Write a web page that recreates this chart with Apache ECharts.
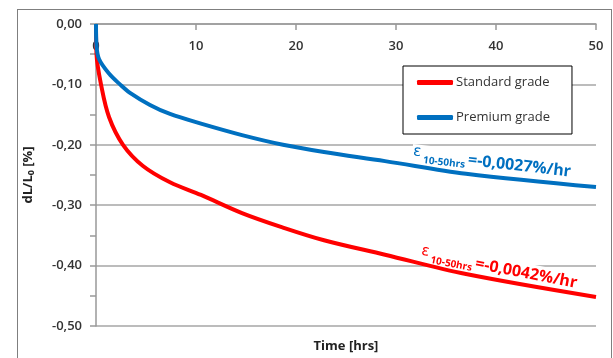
<!DOCTYPE html>
<html>
<head>
<meta charset="UTF-8" />
<script src="https://cdn.jsdelivr.net/npm/echarts@6/dist/echarts.min.js"></script>
<style>
  html, body { margin: 0; padding: 0; background: #fff; overflow: hidden; }
  #wrap { position: relative; width: 613px; height: 358px; }
  #chart { position: absolute; left: 0; top: 0; width: 613px; height: 358px; }
  #frame { position: absolute; left: 17px; top: 9px; width: 593px; height: 400px;
    border: 1px solid #7f7f7f; pointer-events: none; }
</style>
</head>
<body>
<div id="wrap">
  <div id="chart"></div>
  <div id="frame"></div>
</div>
<script>
// values (time in hrs, dL/L0 in %)
const stdTime = [0, 0.05, 0.5, 1.3, 2.7, 4.7, 7.4, 10.5, 14.6, 18.7, 22.8, 28.9, 37, 50];
const stdValue = [0, -0.05, -0.1, -0.154, -0.2, -0.235, -0.262, -0.283, -0.313, -0.337, -0.358, -0.382, -0.414, -0.452];
const premTime = [0, 0.05, 0.3, 1.3, 2.4, 3.4, 5.4, 7.4, 10.5, 14.6, 18.7, 22.8, 28.9, 37, 50];
const premValue = [0, -0.035, -0.058, -0.082, -0.1, -0.114, -0.134, -0.149, -0.165, -0.184, -0.2, -0.212, -0.227, -0.248, -0.27];
const seriesNames = ['Standard grade', 'Premium grade'];
const seriesColors = ['#ff0000', '#0070c0'];
const rateLabels = ['-0,0042%/hr', '-0,0027%/hr'];
// where each rate note starts, in data units
const noteAnchor = [[32.4, -0.379], [31.6, -0.215]];
const noteTilt = [11, 6.5];

const FONT = '"Open Sans", "DejaVu Sans", sans-serif';
const GRID_COLOR = '#a6a6a6';

function zip(xs, ys) {
  return xs.map((x, i) => [x, ys[i]]);
}

function fmtComma(v) {
  const s = Math.abs(v) < 1e-9 ? '0.00' : v.toFixed(2);
  return s.replace('.', ',');
}

const chart = echarts.init(document.getElementById('chart'));

const option = {
  animation: false,
  textStyle: { fontFamily: FONT },
  grid: { left: 96, right: 17, top: 24, bottom: 22 },
  legend: {
    orient: 'vertical',
    left: 403,
    top: 66,
    padding: [10, 22, 10, 14],
    itemGap: 22,
    itemWidth: 36,
    itemHeight: 5,
    icon: 'roundRect',
    backgroundColor: '#fff',
    borderColor: '#000',
    borderWidth: 1,
    borderRadius: 0,
    textStyle: { fontSize: 13, color: '#333', fontFamily: FONT, padding: [0, 0, 0, -2] },
    data: seriesNames,
  },
  xAxis: [
    {
      type: 'value',
      min: 0,
      max: 50,
      interval: 10,
      position: 'top',
      axisLine: { lineStyle: { color: '#999', width: 1.5 } },
      axisTick: { inside: true, length: 6, lineStyle: { color: '#999', width: 1.5 } },
      axisLabel: { inside: true, margin: 16, fontSize: 13, color: '#333', fontFamily: FONT, fontWeight: 600 },
      splitLine: { show: false },
    },
    {
      type: 'value',
      min: 0,
      max: 50,
      position: 'bottom',
      axisLine: { show: false },
      axisTick: { show: false },
      axisLabel: { show: false },
      splitLine: { show: false },
      name: 'Time [hrs]',
      nameLocation: 'middle',
      nameGap: 14,
      nameTextStyle: { fontSize: 13, fontWeight: 'bold', color: '#222', fontFamily: FONT },
    },
  ],
  yAxis: {
    type: 'value',
    min: -0.5,
    max: 0,
    interval: 0.1,
    axisLine: { show: true, lineStyle: { color: '#999', width: 1.5 } },
    axisTick: { show: true, length: 6, lineStyle: { color: '#999', width: 1.5 } },
    minorTick: { show: true, splitNumber: 2, length: 6, lineStyle: { color: '#999', width: 1.5 } },
    axisLabel: { margin: 14, fontSize: 13, color: '#333', fontFamily: FONT, fontWeight: 600, formatter: fmtComma },
    splitLine: { show: true, lineStyle: { color: GRID_COLOR, width: 1.5 } },
    name: '{a|dL/L}{s|0}{a| [%]}',
    nameLocation: 'middle',
    nameRotate: 90,
    nameGap: 60,
    nameTextStyle: {
      rich: {
        a: { fontSize: 13, fontWeight: 'bold', color: '#222', fontFamily: FONT },
        s: { fontSize: 9, fontWeight: 'bold', color: '#222', fontFamily: FONT, padding: [6, 0, 0, 0] },
      },
    },
  },
  series: [
    {
      name: seriesNames[0],
      type: 'line',
      data: zip(stdTime, stdValue),
      smooth: 0.35,
      showSymbol: false,
      z: 3,
      color: seriesColors[0],
      lineStyle: { width: 4, color: seriesColors[0] },
    },
    {
      name: seriesNames[1],
      type: 'line',
      data: zip(premTime, premValue),
      smooth: 0.35,
      showSymbol: false,
      z: 3,
      color: seriesColors[1],
      lineStyle: { width: 4, color: seriesColors[1] },
    },
  ],
};

chart.setOption(option);

// rate notes, placed through the grid's own scale; drawn under the lines
const notes = noteAnchor.map((pt, i) => {
  const px = chart.convertToPixel({ gridIndex: 0 }, pt);
  const c = seriesColors[i];
  return {
    type: 'text',
    x: px[0],
    y: px[1],
    rotation: -noteTilt[i] * Math.PI / 180,
    z: 1,
    style: {
      text: '{e|\u03b5}{s| 10-50hrs }{b|=' + rateLabels[i] + '}',
      verticalAlign: 'middle',
      align: 'left',
      backgroundColor: '#fff',
      padding: [0, 1, 0, 1],
      rich: {
        e: { fontSize: 15, fill: c, fontFamily: '"DejaVu Sans", sans-serif', verticalAlign: 'top', lineHeight: 20 },
        s: { fontSize: 10, fontWeight: 'bold', fill: c, fontFamily: FONT, verticalAlign: 'bottom', lineHeight: 20 },
        b: { fontSize: 16, fontWeight: 'bold', fill: c, fontFamily: FONT, verticalAlign: 'middle', lineHeight: 20 },
      },
    },
  };
});

chart.setOption({ graphic: notes });
</script>
</body>
</html>
